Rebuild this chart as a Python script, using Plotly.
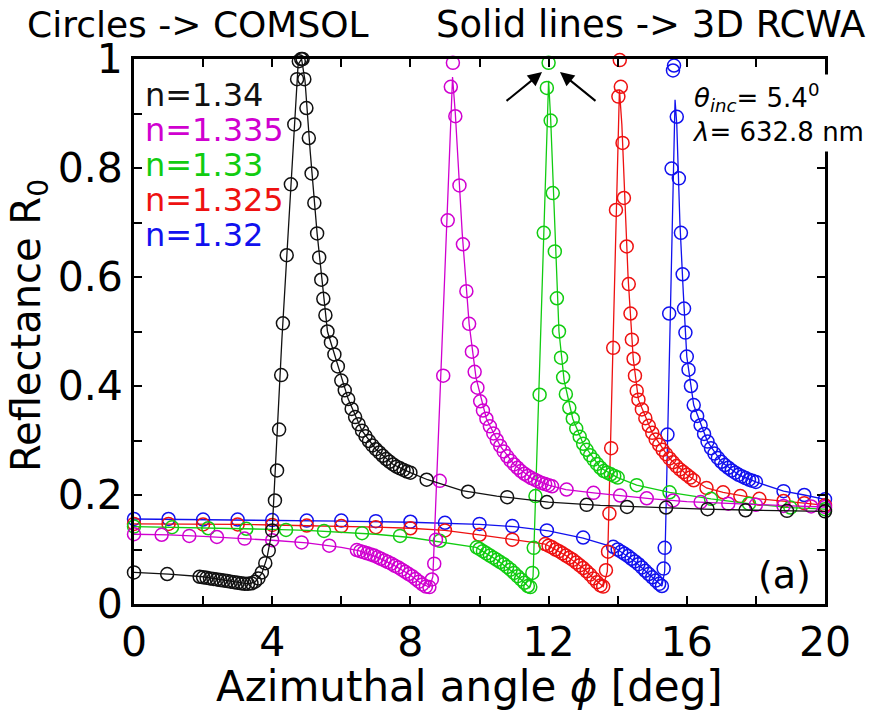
import plotly.graph_objects as go

# ---------------- data ----------------
# n = 1.34 (black)
black_line = [(0, .058), (1, .055), (2, .05), (3, .04), (3.3, .037), (3.5, .04), (3.7, .056), (3.85, .085),
              (4.0, .135), (4.28, .485), (4.5, .72), (4.75, .99), (4.85, 1.0), (4.95, .96), (5.1, .83),
              (5.3, .68), (5.6, .5), (5.9, .436), (6.2, .376), (6.6, .318), (7.0, .284), (7.5, .256),
              (8.0, .241), (8.5, .228), (9.5, .208), (10.5, .198), (12, .187), (13.5, .181), (15, .177),
              (16.5, .174), (18, .172), (20, .17)]
black_circ = [(0, .058), (0.96, .055), (1.9, .05), (2.0, .049), (2.1, .048), (2.2, .047), (2.3, .046),
              (2.4, .045), (2.5, .044), (2.6, .043), (2.7, .042), (2.8, .041), (2.9, .040), (3.0, .039),
              (3.1, .038), (3.2, .037), (3.3, .037), (3.4, .038), (3.5, .041), (3.6, .047), (3.7, .058),
              (3.8, .075), (3.9, .098), (4.0, .135), (4.08, .19), (4.14, .245), (4.2, .32), (4.26, .42),
              (4.31, .515), (4.42, .64), (4.54, .77), (4.64, .88), (4.72, .963), (4.77, .996), (4.84, 1.0),
              (4.88, 1.0), (4.93, .963), (4.99, .91), (5.06, .855), (5.14, .79), (5.22, .736), (5.3, .68),
              (5.36, .636), (5.42, .595), (5.48, .56), (5.54, .53), (5.6, .5), (5.7, .48), (5.8, .458),
              (5.9, .436), (6.0, .41), (6.1, .392), (6.2, .376), (6.3, .358), (6.4, .343), (6.5, .33),
              (6.6, .318), (6.7, .308), (6.8, .299), (6.9, .291), (7.0, .284), (7.1, .278), (7.2, .272),
              (7.3, .266), (7.4, .261), (7.5, .256), (7.6, .252), (7.7, .249), (7.8, .246), (7.9, .243),
              (8.0, .241), (8.47, .228), (9.67, .206), (10.8, .196), (11.95, .187), (13.1, .182),
              (14.27, .178), (15.4, .177), (16.6, .174), (17.7, .172), (18.9, .171), (20.0, .170)]

# n = 1.335 (magenta)
magenta_line = [(0, .128), (1, .127), (2, .124), (3, .121), (4, .117), (5, .112), (6, .104), (6.5, .098),
                (7, .087), (7.5, .072), (8, .053), (8.3, .038), (8.55, .031), (8.65, .05), (9.22, .967),
                (9.3, .9), (9.5, .68), (9.7, .514), (9.9, .415), (10.2, .34), (10.6, .29), (11, .256),
                (11.5, .231), (12, .218), (12.5, .21), (13.3, .204), (14, .199), (15, .193), (16, .188),
                (17, .185), (18, .182), (19, .18), (20, .178)]
magenta_circ = [(0, .128), (0.8, .127), (1.6, .125), (2.4, .123), (3.2, .12), (4.0, .117), (4.85, .113),
                (5.65, .107), (6.45, .099), (6.55, .097), (6.65, .095), (6.75, .093), (6.85, .091),
                (6.95, .089), (7.05, .086), (7.15, .083), (7.25, .08), (7.35, .077), (7.45, .074),
                (7.55, .07), (7.65, .067), (7.75, .063), (7.85, .059), (7.95, .055), (8.05, .051),
                (8.15, .046), (8.25, .041), (8.35, .036), (8.45, .032), (8.55, .031), (8.62, .045),
                (8.69, .074), (8.74, .118), (8.85, .226), (8.95, .419), (9.08, .704), (9.17, .949),
                (9.23, .993), (9.3, .895), (9.42, .768), (9.52, .66), (9.62, .574), (9.7, .514),
                (9.78, .463), (9.86, .426), (9.94, .397), (10.02, .372), (10.1, .355), (10.2, .34),
                (10.3, .326), (10.4, .313), (10.5, .301), (10.6, .29), (10.7, .28), (10.8, .271),
                (10.9, .263), (11.0, .256), (11.1, .25), (11.2, .244), (11.3, .239), (11.4, .235),
                (11.5, .231), (11.6, .228), (11.7, .225), (11.8, .222), (11.9, .22), (12.0, .218),
                (12.1, .216), (12.52, .21), (13.3, .204), (14.07, .199), (14.84, .194), (15.6, .19),
                (16.4, .187), (17.2, .184), (18.0, .182), (18.8, .18), (19.6, .179), (20.0, .178)]

# n = 1.33 (green)
green_line = [(0, .142), (1, .141), (2, .14), (3, .138), (4, .137), (5, .135), (6, .132), (7, .128),
              (8, .122), (9, .113), (9.9, .104), (10.5, .081), (11, .057), (11.3, .039), (11.45, .03),
              (11.55, .05), (12.0, .96), (12.06, .89), (12.2, .65), (12.3, .5), (12.45, .41), (12.7, .34),
              (13, .294), (13.5, .25), (14, .232), (14.55, .218), (15.5, .205), (16.7, .193), (17.8, .184),
              (19, .177), (20, .174)]
green_circ = [(0, .142), (1.1, .141), (2.15, .139), (3.25, .138), (4.4, .136), (5.5, .134), (6.6, .13),
              (7.7, .125), (8.85, .116), (9.92, .104), (10.0, .101), (10.1, .097), (10.2, .093),
              (10.3, .089), (10.4, .085), (10.5, .081), (10.6, .077), (10.7, .073), (10.8, .068),
              (10.9, .063), (11.0, .057), (11.1, .051), (11.2, .045), (11.3, .039), (11.4, .033),
              (11.47, .031), (11.53, .057), (11.57, .103), (11.62, .198), (11.74, .384), (11.86, .681),
              (11.95, .947), (12.0, .993), (12.06, .887), (12.12, .754), (12.18, .647), (12.24, .561),
              (12.3, .5), (12.36, .452), (12.42, .416), (12.5, .385), (12.6, .36), (12.7, .34),
              (12.8, .322), (12.9, .307), (13.0, .294), (13.1, .283), (13.2, .273), (13.3, .265),
              (13.4, .257), (13.5, .25), (13.6, .244), (13.7, .241), (13.8, .238), (13.9, .235),
              (14.0, .232), (14.55, .218), (15.5, .205), (16.7, .193), (17.8, .184), (19.0, .177),
              (20.0, .174)]

# n = 1.325 (red)
red_line = [(0, .147), (1, .147), (2, .146), (3, .146), (4, .145), (5, .144), (6, .143), (7, .141),
            (8, .139), (9, .135), (10, .127), (11, .118), (11.9, .11), (12.5, .089), (13, .066),
            (13.3, .047), (13.58, .032), (13.7, .06), (14.05, .944), (14.12, .88), (14.3, .6),
            (14.45, .45), (14.6, .375), (15.0, .314), (15.5, .267), (16.0, .237), (16.57, .213),
            (17.05, .205), (18.1, .193), (19.4, .185), (20, .181)]
red_circ = [(0, .147), (1, .147), (2, .146), (3, .146), (4, .145), (5, .144), (6, .143), (7, .141),
            (8, .139), (9, .135), (10, .127), (10.95, .118), (11.9, .11), (12.0, .107), (12.1, .104),
            (12.2, .1), (12.3, .097), (12.4, .093), (12.5, .089), (12.6, .085), (12.7, .081),
            (12.8, .076), (12.9, .071), (13.0, .066), (13.1, .06), (13.2, .054), (13.3, .047),
            (13.4, .04), (13.5, .034), (13.58, .032), (13.66, .062), (13.72, .096), (13.76, .166),
            (13.81, .286), (13.87, .47), (13.95, .723), (14.02, .931), (14.06, .998), (14.09, .949),
            (14.14, .846), (14.18, .745), (14.26, .656), (14.32, .587), (14.37, .533), (14.41, .485),
            (14.46, .45), (14.5, .419), (14.55, .391), (14.6, .375), (14.7, .357), (14.8, .341),
            (14.9, .327), (15.0, .314), (15.1, .302), (15.2, .292), (15.3, .283), (15.4, .275),
            (15.5, .267), (15.6, .26), (15.7, .253), (15.8, .247), (15.9, .242), (16.0, .237),
            (16.1, .232), (16.2, .227), (16.57, .213), (17.05, .205), (17.55, .198), (18.1, .193),
            (18.8, .189), (19.4, .185), (20.0, .181)]

# n = 1.32 (blue)
blue_line = [(0, .156), (2, .155), (4, .154), (6, .152), (8, .15), (10, .146), (11, .142), (12, .134),
             (13, .121), (13.9, .104), (14.5, .078), (15, .049), (15.28, .033), (15.36, .06),
             (15.66, .925), (15.71, .88), (15.8, .7), (15.9, .57), (16.0, .454), (16.2, .365),
             (16.6, .298), (17, .261), (17.5, .237), (18, .224), (18.8, .207), (19.4, .2), (20, .192)]
blue_circ = [(0, .156), (1, .156), (2, .155), (3, .155), (4, .154), (5, .153), (6, .153), (7, .152),
             (8, .151), (9, .149), (10, .147), (10.95, .143), (11.95, .135), (13.0, .122), (13.87, .105),
             (14.0, .1), (14.1, .096), (14.2, .092), (14.3, .088), (14.4, .083), (14.5, .078),
             (14.6, .073), (14.7, .067), (14.8, .061), (14.9, .055), (15.0, .049), (15.1, .043),
             (15.2, .037), (15.28, .033), (15.33, .065), (15.36, .103), (15.44, .311), (15.49, .533),
             (15.56, .799), (15.6, .979), (15.63, .988), (15.71, .894), (15.77, .781), (15.83, .681),
             (15.88, .605), (15.92, .542), (15.96, .498), (16.0, .454), (16.05, .43), (16.12, .4),
             (16.2, .365), (16.3, .345), (16.4, .328), (16.5, .312), (16.6, .298), (16.7, .286),
             (16.8, .276), (16.9, .268), (17.0, .261), (17.1, .255), (17.2, .25), (17.3, .245),
             (17.4, .241), (17.5, .237), (17.6, .234), (17.7, .231), (17.8, .228), (17.9, .226),
             (18.0, .224), (18.8, .207), (19.4, .2), (20.0, .192)]

labels = ["n=1.34", "n=1.335", "n=1.33", "n=1.325", "n=1.32"]
colors = ["#111111", "#d000d0", "#11cc11", "#ee1111", "#1111ee"]
lines = [black_line, magenta_line, green_line, red_line, blue_line]
circles = [black_circ, magenta_circ, green_circ, red_circ, blue_circ]

x_ticks = [0, 2, 4, 6, 8, 10, 12, 14, 16, 18, 20]
x_ticktext = ["0", "", "4", "", "8", "", "12", "", "16", "", "20"]
y_ticks = [0, .1, .2, .3, .4, .5, .6, .7, .8, .9, 1.0]
y_ticktext = ["0", "", "0.2", "", "0.4", "", "0.6", "", "0.8", "", "1"]

FONT = "DejaVu Sans"

fig = go.Figure()
for idx in reversed(range(len(labels))):
    c = colors[idx]
    lx = [p[0] for p in lines[idx]]
    ly = [p[1] for p in lines[idx]]
    cx = [p[0] for p in circles[idx]]
    cy = [p[1] for p in circles[idx]]
    fig.add_trace(go.Scatter(x=lx, y=ly, mode="lines", line=dict(color=c, width=1.3),
                             showlegend=False, cliponaxis=False, hoverinfo="skip"))
    fig.add_trace(go.Scatter(x=cx, y=cy, mode="markers", name=labels[idx],
                             marker=dict(symbol="circle-open", size=13, color=c, line=dict(width=1.5)),
                             showlegend=False, cliponaxis=False))

axis_common = dict(showline=True, linewidth=2.8, linecolor="black", mirror="ticks", ticks="inside",
                   ticklen=8, tickwidth=1.5, tickcolor="black", showgrid=False, zeroline=False,
                   tickfont=dict(family=FONT, size=41, color="black"), automargin=False)

fig.update_layout(
    width=891, height=710, margin=dict(l=134, r=66, t=59, b=106),
    paper_bgcolor="white", plot_bgcolor="white",
    xaxis=dict(range=[0, 20], tickmode="array", tickvals=x_ticks, ticktext=x_ticktext, **axis_common),
    yaxis=dict(range=[0, 1], tickmode="array", tickvals=y_ticks, ticktext=y_ticktext, **axis_common),
    font=dict(family=FONT, color="black"),
)

ann = []
# axis titles
ann.append(dict(text="Azimuthal angle <i>ϕ</i> [deg]", x=0.486, xref="paper", y=-0.152, yref="paper",
                xanchor="center", yanchor="middle", showarrow=False, font=dict(size=42, family=FONT)))
ann.append(dict(text="Reflectance R<sub>0</sub>", x=-0.152, xref="paper", y=0.512, yref="paper",
                textangle=-90, xanchor="center", yanchor="middle", showarrow=False,
                font=dict(size=40, family=FONT)))
# header texts
ann.append(dict(text="Circles -> COMSOL", x=(198 - 134) / 691, xref="paper", y=1.063, yref="paper",
                xanchor="center", yanchor="middle", showarrow=False, font=dict(size=36, family=FONT)))
ann.append(dict(text="Solid lines -> 3D RCWA", x=(650 - 134) / 691, xref="paper", y=1.063, yref="paper",
                xanchor="center", yanchor="middle", showarrow=False, font=dict(size=37, family=FONT)))
# legend texts
leg_y = [.934, .869, .806, .741, .677]
for lab, c, yy in zip(labels, colors, leg_y):
    ann.append(dict(text=lab, x=0.25, y=yy, xref="x", yref="y", xanchor="left", yanchor="middle",
                    showarrow=False, font=dict(size=32, family=FONT, color=c)))
# parameter box
ann.append(dict(text="<i>θ</i><sub><i>inc</i></sub>= 5.4<sup>0</sup><br><i>λ</i>= 632.8 nm",
                x=16.0, y=0.972, xref="x", yref="y", xanchor="left", yanchor="top", align="left",
                showarrow=False, bgcolor="white", borderpad=4, font=dict(size=26, family=FONT)))
# (a)
ann.append(dict(text="(a)", x=18.84, y=0.053, xref="x", yref="y", xanchor="center", yanchor="middle",
                showarrow=False, font=dict(size=38, family=FONT)))
# arrows pointing to the green peak
for hx, axp in [(11.81, -37), (12.33, 37)]:
    ann.append(dict(text="", x=hx, y=0.976, xref="x", yref="y", ax=axp, ay=30, showarrow=True,
                    arrowhead=2, arrowsize=1.4, arrowwidth=2, arrowcolor="black", standoff=0))

fig.update_layout(annotations=ann)
fig.write_html("out.html")
